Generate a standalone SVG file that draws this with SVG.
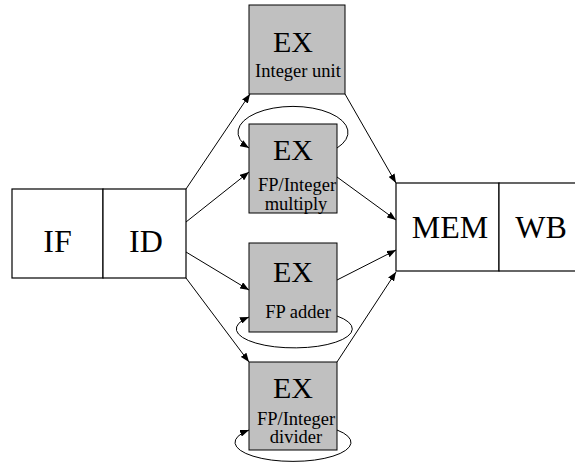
<svg xmlns="http://www.w3.org/2000/svg" width="575" height="465" viewBox="0 0 575 465">
<defs>
<marker id="ah" markerWidth="9" markerHeight="7" refX="9" refY="3.5" orient="auto" markerUnits="userSpaceOnUse">
<path d="M0,0 L9,3.5 L0,7 Z" fill="#000"/>
</marker>
<style>
.stage{fill:#fff;stroke:#000;stroke-width:1.2}
.ex{fill:#c0c0c0;stroke:#000;stroke-width:1}
text{font-family:'Liberation Serif','Times New Roman',Times,'DejaVu Serif',serif;text-anchor:middle;fill:#000}
.big{font-size:32px}
.exl{font-size:30px}
.sub{font-size:18.5px}
.c{fill:none;stroke:#000;stroke-width:1;marker-end:url(#ah)}
</style>
</defs>
<rect width="575" height="465" fill="#fff"/>
<g id="connectors">
<path class="c" d="M186,189 L250,94"/>
<path class="c" d="M186,222 L249,172"/>
<path class="c" d="M186,252 L249,290"/>
<path class="c" d="M186,278 L249,362"/>
<path class="c" d="M345,94 L396,183"/>
<path class="c" d="M337,177 L396,220"/>
<path class="c" d="M337,280 L396,250"/>
<path class="c" d="M337,362 L396,272"/>
<path class="c" d="M337,148 A55,26 0 1 0 249,148"/>
<path class="c" d="M337,316 A58,19 0 1 1 249,317"/>
<path class="c" d="M337,430 A58,19 0 1 1 249,430"/>
</g>
<g id="IF"><rect class="stage" x="12" y="189" width="91" height="89"/><text class="big" x="57.5" y="252" font-family="Liberation Serif, serif">IF</text></g>
<g id="ID"><rect class="stage" x="103" y="189" width="83" height="89"/><text class="big" x="146" y="252" font-family="Liberation Serif, serif">ID</text></g>
<g id="MEM"><rect class="stage" x="396" y="183" width="103" height="88"/><text class="big" x="450" y="238" font-family="Liberation Serif, serif">MEM</text></g>
<g id="WB"><rect class="stage" x="499" y="183" width="95" height="88"/><text class="big" x="541" y="238" font-family="Liberation Serif, serif">WB</text></g>
<g id="EX_int"><rect class="ex" x="249" y="5" width="96" height="89"/><text class="exl" x="293" y="52" font-family="Liberation Serif, serif">EX</text><text class="sub" x="298" y="77" font-family="Liberation Serif, serif">Integer unit</text></g>
<g id="EX_mul"><rect class="ex" x="249" y="124" width="88" height="89"/><text class="exl" x="293" y="160" font-family="Liberation Serif, serif">EX</text><text class="sub" x="297" y="191" font-family="Liberation Serif, serif">FP/Integer</text><text class="sub" x="296" y="210" font-family="Liberation Serif, serif">multiply</text></g>
<g id="EX_add"><rect class="ex" x="249" y="243" width="88" height="89"/><text class="exl" x="293" y="282" font-family="Liberation Serif, serif">EX</text><text class="sub" x="298" y="318" font-family="Liberation Serif, serif">FP adder</text></g>
<g id="EX_div"><rect class="ex" x="249" y="362" width="88" height="88"/><text class="exl" x="293" y="398" font-family="Liberation Serif, serif">EX</text><text class="sub" x="296" y="425" font-family="Liberation Serif, serif">FP/Integer</text><text class="sub" x="296" y="443" font-family="Liberation Serif, serif">divider</text></g>
</svg>
